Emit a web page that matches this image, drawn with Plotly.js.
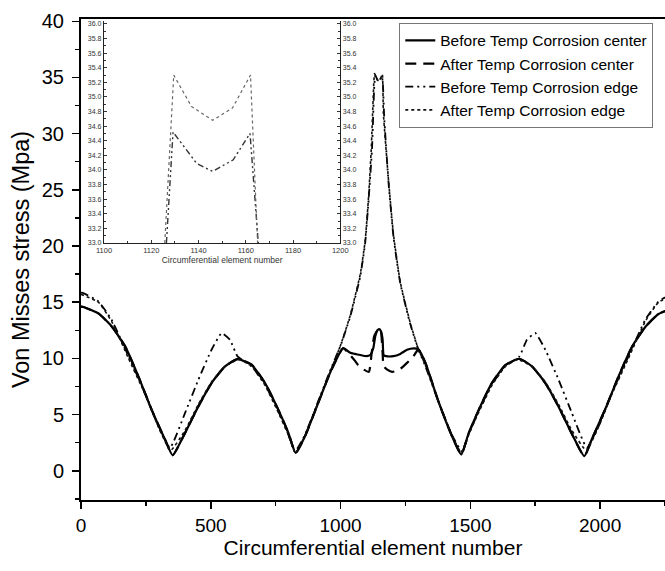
<!DOCTYPE html>
<html>
<head>
<meta charset="utf-8">
<script src="https://cdn.plot.ly/plotly-3.0.1.min.js"></script>
<style>html,body{margin:0;padding:0;background:#fff;}#chart{width:665px;height:571px;}</style>
</head>
<body>
<div id="chart"></div>
<script>
// ---- Main chart data ----
var seriesNames = ["Before Temp Corrosion center", "After Temp Corrosion center", "Before Temp Corrosion edge", "After Temp Corrosion edge"];

var xBeforeCenter = [0, 9, 67, 118, 170, 221, 272, 324, 353, 401, 452, 503, 555, 603, 657, 709, 760, 799, 827, 863, 914, 965, 1010, 1037, 1055, 1076, 1100, 1114, 1126, 1134, 1142, 1149, 1156, 1162, 1166, 1175, 1204, 1230, 1256, 1282, 1300, 1327, 1378, 1429, 1465, 1493, 1532, 1583, 1635, 1689, 1737, 1789, 1840, 1891, 1939, 1968, 2020, 2071, 2122, 2174, 2225, 2283, 2292];
var yBeforeCenter = [14.6, 14.57, 14.0, 12.85, 11.07, 8.4, 5.44, 2.77, 1.38, 3.37, 5.73, 7.81, 9.29, 9.94, 9.44, 7.81, 5.44, 3.37, 1.59, 3.07, 6.04, 9.0, 10.92, 10.5, 10.4, 10.3, 10.2, 10.3, 10.9, 12.0, 12.5, 12.6, 12.4, 11.7, 10.3, 10.2, 10.2, 10.4, 10.77, 10.9, 10.8, 9.6, 6.1, 3.1, 1.45, 3.3, 5.4, 7.8, 9.4, 9.97, 9.3, 7.8, 5.7, 3.3, 1.3, 2.8, 5.5, 8.4, 11.0, 12.8, 13.95, 14.5, 14.6];

var xAfterCenter = [0, 9, 67, 118, 170, 221, 272, 324, 353, 401, 452, 503, 555, 603, 657, 709, 760, 799, 827, 863, 914, 965, 1010, 1037, 1055, 1068, 1090, 1109, 1120, 1130, 1142, 1149, 1156, 1162, 1166, 1180, 1199, 1215, 1232, 1256, 1281, 1300, 1327, 1378, 1429, 1465, 1493, 1532, 1583, 1635, 1689, 1737, 1789, 1840, 1891, 1939, 1968, 2020, 2071, 2122, 2174, 2225, 2283, 2292];
var yAfterCenter = [14.6, 14.57, 14.0, 12.85, 11.07, 8.4, 5.44, 2.77, 1.38, 3.37, 5.73, 7.81, 9.29, 9.94, 9.44, 7.81, 5.44, 3.37, 1.59, 3.07, 6.04, 9.0, 10.9, 10.3, 9.8, 9.4, 9.0, 8.8, 10.5, 12.0, 12.5, 12.6, 12.3, 10.5, 9.3, 9.0, 8.8, 8.9, 9.1, 9.6, 10.2, 10.8, 9.6, 6.1, 3.1, 1.45, 3.3, 5.4, 7.8, 9.4, 9.97, 9.3, 7.8, 5.7, 3.3, 1.3, 2.8, 5.5, 8.4, 11.0, 12.8, 13.95, 14.5, 14.6];

var xBeforeEdge = [0, 9, 67, 118, 183, 247, 298, 343, 401, 452, 503, 542, 574, 603, 657, 709, 760, 799, 824, 863, 914, 965, 999, 1037, 1076, 1095, 1108, 1121, 1130, 1134, 1146, 1159, 1163, 1168, 1185, 1204, 1230, 1268, 1300, 1327, 1378, 1429, 1468, 1493, 1532, 1583, 1635, 1689, 1718, 1750, 1789, 1840, 1891, 1949, 1994, 2045, 2109, 2174, 2225, 2283, 2292];
var yBeforeEdge = [15.85, 15.81, 15.07, 13.44, 10.18, 6.92, 3.96, 2.04, 5.15, 8.1, 10.77, 12.26, 11.66, 10.18, 9.3, 7.7, 5.3, 3.2, 1.7, 3.2, 6.2, 9.2, 11.07, 13.7, 17.3, 20.3, 24.1, 28.55, 34.3, 35.2, 34.6, 35.1, 34.5, 31.5, 25.6, 20.8, 16.7, 13.1, 10.77, 9.3, 6.1, 3.2, 1.7, 3.2, 5.3, 7.7, 9.3, 10.18, 11.66, 12.26, 10.77, 8.1, 5.15, 2.04, 3.96, 6.92, 10.18, 13.44, 15.07, 15.81, 15.85];

var xAfterEdge = [0, 67, 118, 183, 247, 298, 345, 401, 452, 503, 555, 610, 657, 709, 760, 799, 826, 863, 914, 965, 999, 1037, 1076, 1095, 1108, 1118, 1128, 1131, 1140, 1146, 1154, 1161, 1165, 1185, 1204, 1230, 1268, 1300, 1327, 1378, 1429, 1466, 1493, 1532, 1583, 1635, 1682, 1737, 1789, 1840, 1891, 1947, 1994, 2045, 2109, 2174, 2225, 2292];
var yAfterEdge = [15.7, 15.0, 13.3, 10.0, 6.8, 3.9, 1.8, 3.6, 5.9, 7.9, 9.3, 9.9, 9.3, 7.6, 5.2, 3.2, 1.6, 3.1, 6.1, 9.1, 11.1, 13.8, 17.5, 20.5, 24.4, 28.5, 34.5, 35.35, 34.9, 34.7, 34.9, 35.3, 31.8, 25.8, 21.0, 16.8, 13.2, 10.8, 9.4, 6.1, 3.1, 1.6, 3.2, 5.2, 7.6, 9.3, 9.9, 9.3, 7.9, 5.9, 3.6, 1.8, 3.9, 6.8, 10.0, 13.3, 15.0, 15.7];

// ---- Inset data ----
var xInsetBeforeEdge = [1126.4, 1129.2, 1139.2, 1146, 1154.7, 1161.8, 1165.3];
var yInsetBeforeEdge = [33.0, 34.52, 34.09, 33.98, 34.14, 34.5, 33.0];
var xInsetAfterEdge = [1125.7, 1129.5, 1137, 1146, 1154.4, 1162, 1165];
var yInsetAfterEdge = [33.0, 35.3, 34.87, 34.68, 34.85, 35.3, 33.0];

// ---- Axis labels ----
var xTitle = "Circumferential element number";
var yTitle = "Von Misses stress (Mpa)";
var insetXTitle = "Circumferential element number";

var FONT = "Arial, 'Liberation Sans', sans-serif";

var traces = [
  {x: xBeforeCenter, y: yBeforeCenter, name: seriesNames[0], mode: "lines", line: {color: "#000", width: 2.2, dash: "solid", shape: "spline", smoothing: 0.5}, xaxis: "x", yaxis: "y"},
  {x: xAfterCenter, y: yAfterCenter, name: seriesNames[1], mode: "lines", line: {color: "#000", width: 2.2, dash: "11px,7px", shape: "spline", smoothing: 0.5}, xaxis: "x", yaxis: "y"},
  {x: xBeforeEdge, y: yBeforeEdge, name: seriesNames[2], mode: "lines", line: {color: "#000", width: 1.8, dash: "8px,4px,2px,4px,2px,4px", shape: "spline", smoothing: 0.4}, xaxis: "x", yaxis: "y"},
  {x: xAfterEdge, y: yAfterEdge, name: seriesNames[3], mode: "lines", line: {color: "#111", width: 1.6, dash: "dot", shape: "spline", smoothing: 0.4}, xaxis: "x", yaxis: "y"},
  {x: xInsetBeforeEdge, y: yInsetBeforeEdge, showlegend: false, mode: "lines", line: {color: "#333", width: 1.4, dash: "6px,3px,2px,3px,2px,3px"}, xaxis: "x2", yaxis: "y2", hoverinfo: "skip"},
  {x: xInsetAfterEdge, y: yInsetAfterEdge, showlegend: false, mode: "lines", line: {color: "#666", width: 1.2, dash: "dot"}, xaxis: "x2", yaxis: "y3", hoverinfo: "skip"}
];

var layout = {
  width: 665, height: 571,
  margin: {l: 81, r: 0, t: 19, b: 71},
  paper_bgcolor: "#fff", plot_bgcolor: "#fff",
  font: {family: FONT, color: "#000"},
  showlegend: true,
  legend: {
    x: 0.545, y: 0.992, xanchor: "left", yanchor: "top",
    bgcolor: "#fff", bordercolor: "#777", borderwidth: 1,
    font: {family: FONT, size: 15.5, color: "#000"},
    tracegroupgap: 0, itemwidth: 30
  },
  xaxis: {
    domain: [0, 1], range: [0, 2250], anchor: "y",
    tickvals: [0, 500, 1000, 1500, 2000], ticks: "outside", ticklen: 7, tickwidth: 1.5, tickcolor: "#000",
    minor: {dtick: 250, tick0: 0, ticks: "outside", ticklen: 4, tickwidth: 1.5, tickcolor: "#000", showgrid: false},
    showline: true, linecolor: "#000", linewidth: 2, mirror: true,
    showgrid: false, zeroline: false,
    tickfont: {family: FONT, size: 19, color: "#000"},
    title: {text: xTitle, font: {family: FONT, size: 21, color: "#000"}, standoff: 3}
  },
  yaxis: {
    domain: [0, 1], range: [-2.6, 40.2], anchor: "x",
    dtick: 5, tick0: 0, ticks: "outside", ticklen: 7, tickwidth: 1.5, tickcolor: "#000",
    minor: {dtick: 2.5, tick0: 0, ticks: "outside", ticklen: 4, tickwidth: 1.5, tickcolor: "#000", showgrid: false},
    showline: true, linecolor: "#000", linewidth: 2,
    showgrid: false, zeroline: false,
    ticklabelstandoff: 4,
    tickfont: {family: FONT, size: 20, color: "#000"},
    title: {text: yTitle, font: {family: FONT, size: 23.5, color: "#000"}, standoff: 6}
  },
  xaxis2: {
    domain: [0.0395, 0.4439], range: [1100, 1200], anchor: "y2",
    dtick: 20, tick0: 1100, ticks: "inside", ticklen: 3, tickwidth: 1, tickcolor: "#333",
    minor: {dtick: 10, ticks: "inside", ticklen: 2, tickwidth: 1, tickcolor: "#333", showgrid: false},
    showline: true, linecolor: "#222", linewidth: 1.2,
    showgrid: false, zeroline: false,
    tickfont: {family: FONT, size: 7.5, color: "#333"},
    title: {text: insetXTitle, font: {family: FONT, size: 8.5, color: "#333"}, standoff: 2}
  },
  yaxis2: {
    domain: [0.5343, 0.9958], range: [33, 36.04], anchor: "x2",
    dtick: 0.2, tick0: 33, tickformat: ".1f", ticks: "inside", ticklen: 3, tickwidth: 1, tickcolor: "#333",
    minor: {dtick: 0.1, ticks: "inside", ticklen: 2, tickwidth: 1, tickcolor: "#333", showgrid: false},
    showline: true, linecolor: "#222", linewidth: 1.2,
    showgrid: false, zeroline: false,
    tickfont: {family: FONT, size: 7, color: "#333"}
  },
  yaxis3: {
    overlaying: "y2", side: "right", anchor: "x2", range: [33, 36.04],
    dtick: 0.2, tick0: 33, tickformat: ".1f", ticks: "inside", ticklen: 3, tickwidth: 1, tickcolor: "#333",
    minor: {dtick: 0.1, ticks: "inside", ticklen: 2, tickwidth: 1, tickcolor: "#333", showgrid: false},
    showline: true, linecolor: "#222", linewidth: 1.2,
    showgrid: false, zeroline: false,
    tickfont: {family: FONT, size: 7, color: "#333"}
  }
};

Plotly.newPlot("chart", traces, layout, {staticPlot: true, displayModeBar: false});
</script>
</body>
</html>
